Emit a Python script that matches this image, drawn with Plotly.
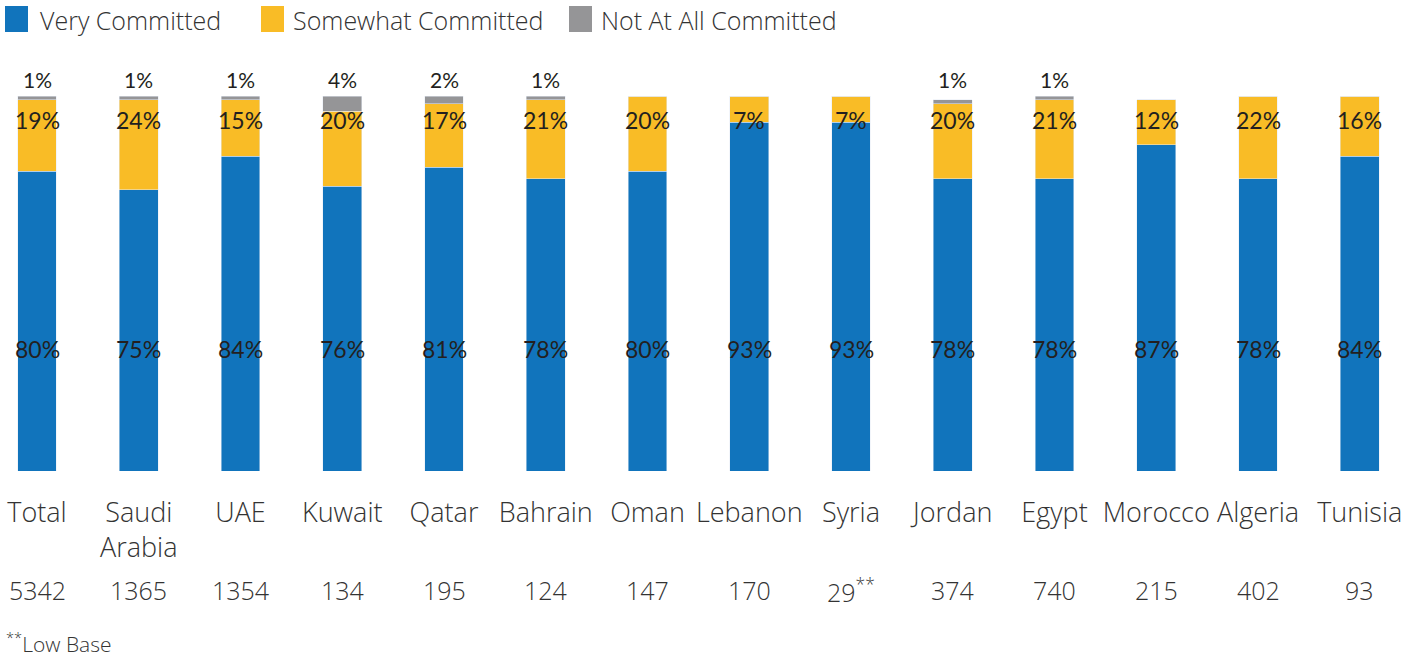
import plotly.graph_objects as go

categories = ["Total", "Saudi<br>Arabia", "UAE", "Kuwait", "Qatar", "Bahrain", "Oman",
              "Lebanon", "Syria", "Jordan", "Egypt", "Morocco", "Algeria", "Tunisia"]
very = [80, 75, 84, 76, 81, 78, 80, 93, 93, 78, 78, 87, 78, 84]
somewhat = [19, 24, 15, 20, 17, 21, 20, 7, 7, 20, 21, 12, 22, 16]
not_at_all = [1, 1, 1, 4, 2, 1, 0, 0, 0, 1, 1, 0, 0, 0]
bases = ["5342", "1365", "1354", "134", "195", "124", "147", "170", "29<sup>**</sup>",
         "374", "740", "215", "402", "93"]
series_names = ["Very Committed", "Somewhat Committed", "Not At All Committed"]

BLUE = "#1174BC"
YELLOW = "#F9BC26"
GREY = "#959597"
COLORS = [BLUE, YELLOW, GREY]
TXT = "#231F20"
LBL = "#333333"
PFONT = "Lato"
TFONT = "Open Sans"

W, H = 1418, 657
T = 70
BOT = 471                    # plot bottom in px
B = H - BOT
PH = H - T - B
STEP = 101.75                # px per category
FIRST = 37                   # centre of first category in px


def py(pix):  # screen pixel -> paper y
    return (BOT - pix) / PH


def px(pix):  # screen pixel -> paper x
    return pix / W


fig = go.Figure()
for name, vals, col in zip(series_names, [very, somewhat, not_at_all], COLORS):
    fig.add_bar(x=categories, y=vals, name=name, marker_color=col, width=0.38,
                showlegend=False)

ann = []
for c, v, s, n, b in zip(categories, very, somewhat, not_at_all, bases):
    ann.append(dict(x=c, y=32.5, text=f"{v}%", showarrow=False, xref="x", yref="y",
                    font=dict(family=PFONT, size=23, color=TXT)))
    ann.append(dict(x=c, y=93.5, text=f"{s}%", showarrow=False, xref="x", yref="y",
                    font=dict(family=PFONT, size=23, color=TXT)))
    if n > 0:
        ann.append(dict(x=c, y=104.5, text=f"{n}%", showarrow=False, xref="x", yref="y",
                        font=dict(family=PFONT, size=21, color=TXT)))
    ann.append(dict(x=c, y=py(590), text=b, showarrow=False, xref="x", yref="paper",
                    xanchor="center", yanchor="middle",
                    font=dict(family=TFONT, size=25, color=LBL, weight=300)))
ann.append(dict(x=px(4), y=py(642), xref="paper", yref="paper", text="<sup>**</sup>Low Base",
                showarrow=False, xanchor="left", yanchor="middle",
                font=dict(family=TFONT, size=21, color=LBL, weight=300)))

# custom legend (large square swatches)
legend_pos = [(5, 38), (261, 291), (569, 599)]
shapes = []
for (sx, tx), name, col in zip(legend_pos, series_names, COLORS):
    shapes.append(dict(type="rect", xref="paper", yref="paper",
                       x0=px(sx), x1=px(sx + 23), y0=py(32), y1=py(6),
                       fillcolor=col, line=dict(width=0)))
    ann.append(dict(x=px(tx), y=py(20), xref="paper", yref="paper", text=name,
                    showarrow=False, xanchor="left", yanchor="middle",
                    font=dict(family=TFONT, size=25, color=LBL, weight=300)))

x0 = -FIRST / STEP
fig.update_layout(
    barmode="stack",
    width=W, height=H,
    margin=dict(l=0, r=0, t=T, b=B, autoexpand=False),
    paper_bgcolor="white", plot_bgcolor="white",
    showlegend=False,
    xaxis=dict(range=[x0, x0 + W / STEP], showgrid=False, showline=False, zeroline=False,
               tickfont=dict(family=TFONT, size=27, color=LBL, weight=300), ticks="",
               ticklabelstandoff=23),
    yaxis=dict(range=[0, (BOT - T) / 3.75], visible=False),
    annotations=ann,
    shapes=shapes,
)

fig.write_html("out.html", config={"displayModeBar": False},
               post_script="document.body.style.margin='0';document.body.style.overflow='hidden';")
